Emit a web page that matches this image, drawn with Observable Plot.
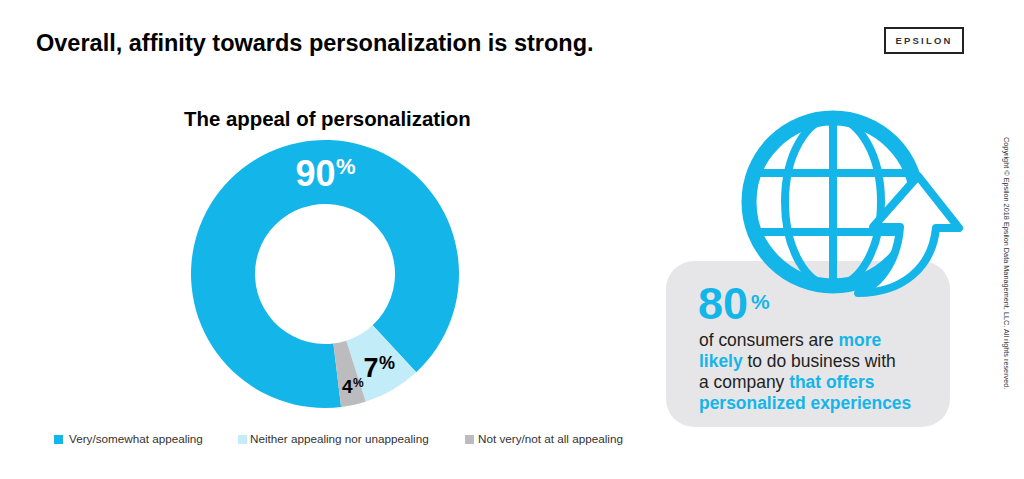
<!DOCTYPE html>
<html>
<head>
<meta charset="utf-8">
<script src="https://cdn.jsdelivr.net/npm/d3@7"></script>
<script src="https://cdn.jsdelivr.net/npm/@observablehq/plot@0.6"></script>
<style>
  html,body{margin:0;padding:0;background:#fff;}
  #page{position:relative;width:1024px;height:479px;overflow:hidden;font-family:"Liberation Sans",Arial,sans-serif;color:#111;}
  #page svg{position:absolute;left:0;top:0;}
  .t{position:absolute;white-space:nowrap;}
  h1.t{left:36px;top:29px;margin:0;font-size:23.5px;line-height:28px;font-weight:700;color:#000;}
  h2.t{left:184px;top:107px;margin:0;font-size:20.4px;line-height:24px;font-weight:700;color:#000;}
  .logo{left:884px;top:27px;width:76px;height:23px;border:2px solid #222;text-align:center;font-size:9.5px;font-weight:700;letter-spacing:2.2px;line-height:24px;color:#333;}
  .copy{left:1006px;top:137px;font-size:7.3px;line-height:8px;transform-origin:0 0;transform:rotate(90deg) translateY(-4px);color:#333;}
  .big{left:698px;top:279px;font-size:45px;line-height:50px;font-weight:700;color:#14b5e8;}
  .pct{left:751px;top:288px;font-size:21px;line-height:28px;font-weight:700;color:#14b5e8;}
  .body{left:699px;top:330px;font-size:17.45px;line-height:21px;color:#222;}
  .body b{color:#14b5e8;}
  .sw{position:absolute;top:435px;width:9px;height:9px;}
  .lg{position:absolute;top:432px;font-size:11.7px;line-height:14px;color:#333;white-space:nowrap;}
</style>
</head>
<body>
<div id="page"></div>
<script>
const categories = ["Very/somewhat appealing", "Neither appealing nor unappealing", "Not very/not at all appealing"];
const shares = [90, 7, 3];
const shownLabels = ["90", "7", "4"];
const sliceColors = ["#14b5e8", "#c3ecf9", "#bcbcbe"];
const labelColors = ["#ffffff", "#000000", "#000000"];
const labelX = [335, 378, 352];
const labelY = [174, 368, 386];
const labelSizes = [36, 27, 19];
const percentSizes = [22, 18, 12];
const legendSwatchX = [54, 238, 465];
const legendTextX = [69, 250, 478];

const rows = categories.map((c, i) => ({c, share: shares[i], label: shownLabels[i], x: labelX[i], y: labelY[i], color: labelColors[i], size: labelSizes[i], pctSize: percentSizes[i]}));

function donut(index, {x, y, color}) {
  const g = d3.create("svg:g").attr("transform", `translate(${x(325)},${y(274)})`);
  const pie = d3.pie().sort(null).value(d => d.share).startAngle(173.1 * Math.PI / 180).endAngle(533.1 * Math.PI / 180);
  const arc = d3.arc().innerRadius(70).outerRadius(134);
  g.selectAll("path").data(pie(rows)).join("path").attr("d", arc).attr("fill", d => color(d.data.c));
  return g.node();
}

function panel() {
  return d3.create("svg:rect").attr("x", 666).attr("y", 261).attr("width", 284).attr("height", 166).attr("rx", 28).attr("fill", "#e6e6e8").node();
}

function globe() {
  const blue = "#14b5e8";
  const g = d3.create("svg:g").attr("fill", "none").attr("stroke", blue);
  g.append("circle").attr("cx", 833).attr("cy", 202).attr("r", 84).attr("stroke-width", 15);
  g.append("ellipse").attr("cx", 833).attr("cy", 202).attr("rx", 48).attr("ry", 84).attr("stroke-width", 8);
  g.append("path").attr("stroke-width", 8).attr("d", "M833 118V286M757 173H909M757 232H909");
  g.append("path").attr("fill", "#fff").attr("stroke-width", 8).attr("stroke-linejoin", "round").attr("stroke-linecap", "round")
    .attr("d", "M918 176L959 228H936C932 268 902 293 858 293C884 284 898 256 900 227H873Z");
  return g.node();
}

const plot = Plot.plot({
  width: 1024,
  height: 479,
  margin: 0,
  style: {background: "transparent", fontFamily: "'Liberation Sans', Arial, sans-serif"},
  x: {domain: [0, 1024], range: [0, 1024], axis: null},
  y: {domain: [0, 479], range: [0, 479], axis: null},
  color: {domain: categories, range: sliceColors},
  marks: [
    donut,
    panel,
    globe,
    Plot.text(rows, {x: "x", y: "y", text: "label", fill: "color", fontSize: d => d.size, fontWeight: 700, textAnchor: "end", lineAnchor: "middle"}),
    Plot.text(rows, {x: d => d.x + 0.5, y: d => d.y - d.size * 0.2, text: () => "%", fill: "color", fontSize: d => d.pctSize, fontWeight: 700, textAnchor: "start", lineAnchor: "middle"})
  ]
});

const page = d3.select("#page");
page.node().append(plot);
page.append("h1").attr("class", "t").text("Overall, affinity towards personalization is strong.");
page.append("h2").attr("class", "t").text("The appeal of personalization");
page.append("div").attr("class", "t logo").text("EPSILON");
page.append("div").attr("class", "t copy").text("Copyright © Epsilon 2018 Epsilon Data Management, LLC. All rights reserved.");
page.append("div").attr("class", "t big").text("80");
page.append("div").attr("class", "t pct").text("%");
page.append("div").attr("class", "t body").html("of consumers are <b>more</b><br><b>likely</b> to do business with<br>a company <b>that offers</b><br><b>personalized experiences</b>");
categories.forEach((c, i) => {
  page.append("div").attr("class", "sw").style("left", legendSwatchX[i] + "px").style("background", sliceColors[i]);
  page.append("div").attr("class", "lg").style("left", legendTextX[i] + "px").text(c);
});
</script>
</body>
</html>
